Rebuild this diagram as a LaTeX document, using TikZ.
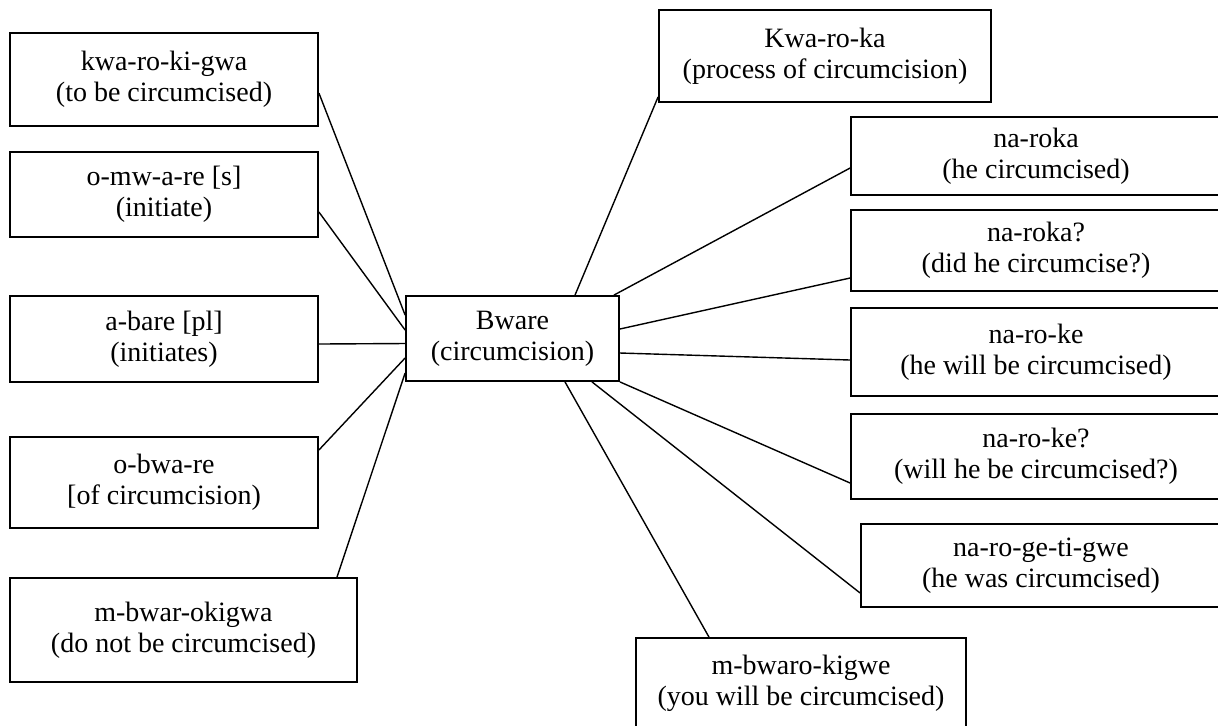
\documentclass[tikz,border=0pt]{standalone}
\usepackage{fontspec}
\setmainfont{Liberation Serif}
\begin{document}
\begin{tikzpicture}[x=0.5pt,y=-0.5pt,
  box/.style={draw, line width=0.9pt, align=center, inner sep=0pt, font=\fontsize{14}{15.5}\selectfont},
  link/.style={line width=0.7pt}]
\useasboundingbox (0,0) rectangle (1218,725);
% left column
\node[box, minimum width=154pt, minimum height=46.5pt] (kwa) at (164,79.5) {kwa-ro-ki-gwa\\(to be circumcised)};
\node[box, minimum width=154pt, minimum height=42.5pt] (omw) at (164,194.5) {o-mw-a-re [s]\\(initiate)};
\node[box, minimum width=154pt, minimum height=43pt] (abare) at (164,339) {a-bare [pl]\\(initiates)};
\node[box, minimum width=154pt, minimum height=45.5pt] (obwa) at (164,482.5) {o-bwa-re\\[0pt][of circumcision)};
\node[box, minimum width=173.5pt, minimum height=52pt] (mbwar) at (183.5,630) {m-bwar-okigwa\\(do not be circumcised)};
% centre
\node[box, minimum width=106.5pt, minimum height=42.5pt] (bware) at (512.5,338.5) {Bware\\(circumcision)};
% right column
\node[box, minimum width=166pt, minimum height=46pt] (kwaroka) at (825,56) {Kwa-ro-ka\\(process of circumcision)};
\node[box, minimum width=185pt, minimum height=39pt] (naroka) at (1036,156) {na-roka\\(he circumcised)};
\node[box, minimum width=185pt, minimum height=40.5pt] (narokaq) at (1036,250.5) {na-roka?\\(did he circumcise?)};
\node[box, minimum width=185pt, minimum height=44pt] (naroke) at (1036,352) {na-ro-ke\\(he will be circumcised)};
\node[box, minimum width=185pt, minimum height=42.5pt] (narokeq) at (1036,456.5) {na-ro-ke?\\(will he be circumcised?)};
\node[box, minimum width=180pt, minimum height=41.5pt] (narogeti) at (1041,565.5) {na-ro-ge-ti-gwe\\(he was circumcised)};
\node[box, minimum width=165pt, minimum height=45pt] (mbwaro) at (801,683) {m-bwaro-kigwe\\(you will be circumcised)};
% links to the centre
\draw[link] ([yshift=-6.75pt]kwa.east) -- ([yshift=11.75pt]bware.west);
\draw[link] ([yshift=-8.75pt]omw.east) -- ([yshift=4.25pt]bware.west);
\draw[link] ([yshift=-2.5pt]abare.east) -- ([yshift=-2.5pt]bware.west);
\draw[link] ([yshift=16.25pt]obwa.east) -- ([yshift=-9.75pt]bware.west);
\draw[link] ([xshift=76.75pt]mbwar.north) -- ([yshift=-17.25pt]bware.west);
\draw[link] ([yshift=3pt]kwaroka.south west) -- ([xshift=31.25pt]bware.north);
\draw[link] ([yshift=-6pt]naroka.west) -- ([xshift=-3pt]bware.north east);
\draw[link] ([yshift=-13.75pt]narokaq.west) -- ([yshift=4.75pt]bware.east);
\draw[link] ([yshift=-4pt]naroke.west) -- ([yshift=-7.25pt]bware.east);
\draw[link] ([yshift=-13.25pt]narokeq.west) -- (bware.south east);
\draw[link] ([yshift=-13.75pt]narogeti.west) -- ([xshift=39.75pt]bware.south);
\draw[link] ([xshift=-46pt]mbwaro.north) -- ([xshift=26.25pt]bware.south);
\end{tikzpicture}
\end{document}
